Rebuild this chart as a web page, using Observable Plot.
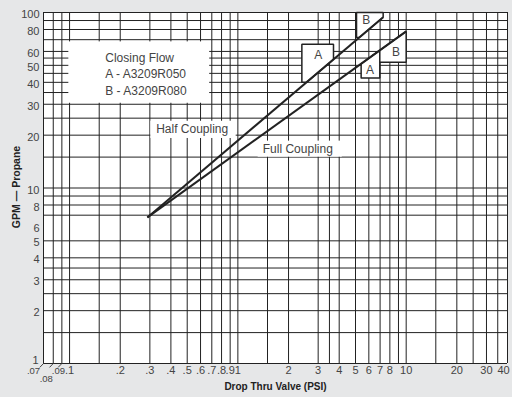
<!DOCTYPE html>
<html>
<head>
<meta charset="utf-8">
<script src="https://cdn.jsdelivr.net/npm/d3@7"></script>
<script src="https://cdn.jsdelivr.net/npm/@observablehq/plot@0.6"></script>
<style>
  html, body { margin: 0; padding: 0; background: #e6e7e8; }
  #chart svg { display: block; overflow: visible; }
</style>
</head>
<body>
<div id="chart"></div>
<script>
// ---- data ----
const xGrid = [0.07, 0.08, 0.09, 0.1, 0.15, 0.2, 0.3, 0.4, 0.5, 0.6, 0.7, 0.8, 0.9, 1, 1.5, 2, 3, 3.5, 4, 5, 6, 7, 8, 9, 10, 15, 20, 25, 30, 35, 40];
const yGrid = [1, 1.5, 2, 2.5, 3, 3.5, 4, 5, 7, 8, 9, 10, 15, 20, 25, 30, 35, 40, 45, 50, 55, 60, 70, 80, 90, 100];

const xTicks = [0.1, 0.2, 0.3, 0.4, 0.5, 0.6, 0.7, 0.8, 0.9, 1, 2, 3, 4, 5, 6, 7, 8, 10, 20, 30];
const xTickLabels = [".1", ".2", ".3", ".4", ".5", ".6", ".7", ".8", ".9", "1", "2", "3", "4", "5", "6", "7", "8", "10", "20", "30"];
const xLastTick = 40;
const xLastLabel = "40";
const xCrowdedTicks = [0.07, 0.08, 0.09];
const xCrowdedLabels = [".07", ".08", ".09"];

const yTicks = [2, 3, 4, 5, 6, 8, 10, 20, 30, 40, 50, 60, 80, 100];
const yFirstTick = 1;

// coupling curves (straight on log-log)
const halfX = [0.29, 7.3];
const halfY = [6.8, 94];
const fullX = [0.29, 10];
const fullY = [6.8, 78];

// callout boxes: extents in data units, clipped by their curve
const calloutLabel = ["A", "B", "B", "A"];
const calloutCurve = ["half", "half", "full", "full"];
const calloutX1 = [2.4, 5.07, 6.3, 5.4];
const calloutX2 = [3.7, 7.3, 10, 6.97];
const calloutY1 = [40, 72, 52, 42.4];
const calloutY2 = [66, 100, 95, 80];
const calloutTextX = [3.0, 5.8, 8.7, 6.1];
const calloutTextY = [57, 90, 59.5, 47];

// legend
const legendLines = ["Closing Flow", "A - A3209R050", "B - A3209R080"];
const legendBoxX = [0.099, 0.68];
const legendBoxY = [30.4, 68];
const legendTextX = 0.163;
const legendTextY = 45.1;

// curve labels
const curveLabels = ["Half Coupling", "Full Coupling"];
const curveLabelX = [0.535, 2.27];
const curveLabelY = [21.6, 16.6];
const curveLabelBoxX1 = [0.304, 1.32];
const curveLabelBoxX2 = [0.977, 4.17];
const curveLabelBoxY1 = [19.15, 14.98];
const curveLabelBoxY2 = [24.0, 18.5];

const xTitle = "Drop Thru Valve (PSI)";
const yTitle = "GPM — Propane";

// ---- derived tables ----
const curves = {half: {x: halfX, y: halfY}, full: {x: fullX, y: fullY}};
const curveRows = [
  ...halfX.map((x, i) => ({id: "half", x, y: halfY[i]})),
  ...fullX.map((x, i) => ({id: "full", x, y: fullY[i]}))
];

function clippedBox(i) {
  const L = Math.log10;
  const c = curves[calloutCurve[i]];
  const side = calloutCurve[i] === "half" ? 1 : -1; // keep above / below
  const ax = L(c.x[0]), ay = L(c.y[0]), bx = L(c.x[1]), by = L(c.y[1]);
  const f = p => side * ((bx - ax) * (p[1] - ay) - (by - ay) * (p[0] - ax));
  const pts = [
    [L(calloutX1[i]), L(calloutY1[i])],
    [L(calloutX2[i]), L(calloutY1[i])],
    [L(calloutX2[i]), L(calloutY2[i])],
    [L(calloutX1[i]), L(calloutY2[i])]
  ];
  const out = [];
  for (let k = 0; k < pts.length; k++) {
    const P = pts[k], Q = pts[(k + 1) % pts.length];
    const fp = f(P), fq = f(Q);
    if (fp >= 0) out.push(P);
    if ((fp >= 0) !== (fq >= 0)) {
      const t = fp / (fp - fq);
      out.push([P[0] + t * (Q[0] - P[0]), P[1] + t * (Q[1] - P[1])]);
    }
  }
  out.push(out[0]);
  return out.map(([lx, ly]) => ({id: i, x: 10 ** lx, y: 10 ** ly}));
}
const calloutPolys = calloutLabel.flatMap((_, i) => clippedBox(i));
const calloutTexts = calloutLabel.map((t, i) => ({t, x: calloutTextX[i], y: calloutTextY[i]}));
const curveLabelRows = curveLabels.map((t, i) => ({
  t, x: curveLabelX[i], y: curveLabelY[i],
  x1: curveLabelBoxX1[i], x2: curveLabelBoxX2[i], y1: curveLabelBoxY1[i], y2: curveLabelBoxY2[i]
}));
const legendBox = [{x1: legendBoxX[0], x2: legendBoxX[1], y1: legendBoxY[0], y2: legendBoxY[1]}];

const ink = "#222";
const textInk = "#444";

const chart = Plot.plot({
  width: 512,
  height: 397,
  marginLeft: 43,
  marginRight: 5,
  marginTop: 12,
  marginBottom: 34,
  style: {background: "transparent", fontFamily: "'Liberation Sans', Arial, Helvetica, sans-serif"},
  x: {type: "log", domain: [0.07, 40], axis: null},
  y: {type: "log", domain: [1, 100], axis: null},
  marks: [
    Plot.frame({fill: "white", stroke: null}),
    Plot.ruleX(xGrid, {stroke: ink, strokeWidth: 1}),
    Plot.ruleY(yGrid, {stroke: ink, strokeWidth: 1}),
    Plot.rect(legendBox, {x1: "x1", x2: "x2", y1: "y1", y2: "y2", fill: "white"}),
    Plot.rect(curveLabelRows, {x1: "x1", x2: "x2", y1: "y1", y2: "y2", fill: "white"}),
    Plot.line(calloutPolys, {x: "x", y: "y", z: "id", fill: "white", stroke: ink, strokeWidth: 1.5, strokeLinejoin: "miter", curve: "linear"}),
    Plot.line(curveRows, {x: "x", y: "y", z: "id", stroke: ink, strokeWidth: 2, strokeLinecap: "butt"}),
    Plot.text(calloutTexts, {x: "x", y: "y", text: "t", fill: textInk, fontSize: 12}),
    Plot.text([legendLines.join("\n")], {x: () => legendTextX, y: () => legendTextY, text: d => d, textAnchor: "start", lineAnchor: "middle", lineHeight: 1.35, fill: textInk, fontSize: 12}),
    Plot.text(curveLabelRows, {x: "x", y: "y", text: "t", fill: textInk, fontSize: 12}),
    // y tick labels
    Plot.text(yTicks, {y: d => d, text: d => String(d), frameAnchor: "left", textAnchor: "end", dx: -4, dy: 2, fill: textInk, fontSize: 11}),
    Plot.text([yFirstTick], {y: d => d, text: d => String(d), frameAnchor: "left", textAnchor: "end", dx: -5, dy: -3, fill: textInk, fontSize: 11}),
    // x tick labels
    Plot.text(xTicks, {x: d => d, text: (d, i) => xTickLabels[i], frameAnchor: "bottom", dy: 10, fill: textInk, fontSize: 11}),
    Plot.text([xLastTick], {x: d => d, text: () => xLastLabel, frameAnchor: "bottom", textAnchor: "middle", dx: -4, dy: 10, fill: textInk, fontSize: 11}),
    // crowded labels with leader lines
    Plot.link(xCrowdedTicks, {x1: d => d, y1: () => 1, x2: d => d * 0.95, y2: () => 0.95, stroke: textInk, strokeWidth: 1}),
    Plot.text([xCrowdedTicks[0]], {x: d => d, text: () => xCrowdedLabels[0], frameAnchor: "bottom", textAnchor: "middle", dx: -10, dy: 10, fill: textInk, fontSize: 9.5}),
    Plot.text([xCrowdedTicks[1]], {x: d => d, text: () => xCrowdedLabels[1], frameAnchor: "bottom", textAnchor: "middle", dx: -7, dy: 18, fill: textInk, fontSize: 9.5}),
    Plot.text([xCrowdedTicks[2]], {x: d => d, text: () => xCrowdedLabels[2], frameAnchor: "bottom", textAnchor: "middle", dx: -3.5, dy: 10, fill: textInk, fontSize: 9.5}),
    // axis titles
    Plot.text([xTitle], {text: d => d, frameAnchor: "bottom", textAnchor: "middle", dy: 26, fontWeight: "bold", fontSize: 10, fill: ink}),
    Plot.text([yTitle], {text: d => d, frameAnchor: "left", textAnchor: "middle", dx: -27, dy: -1, rotate: -90, fontWeight: "bold", fontSize: 10.5, fill: ink})
  ]
});
document.getElementById("chart").appendChild(chart);
</script>
</body>
</html>
